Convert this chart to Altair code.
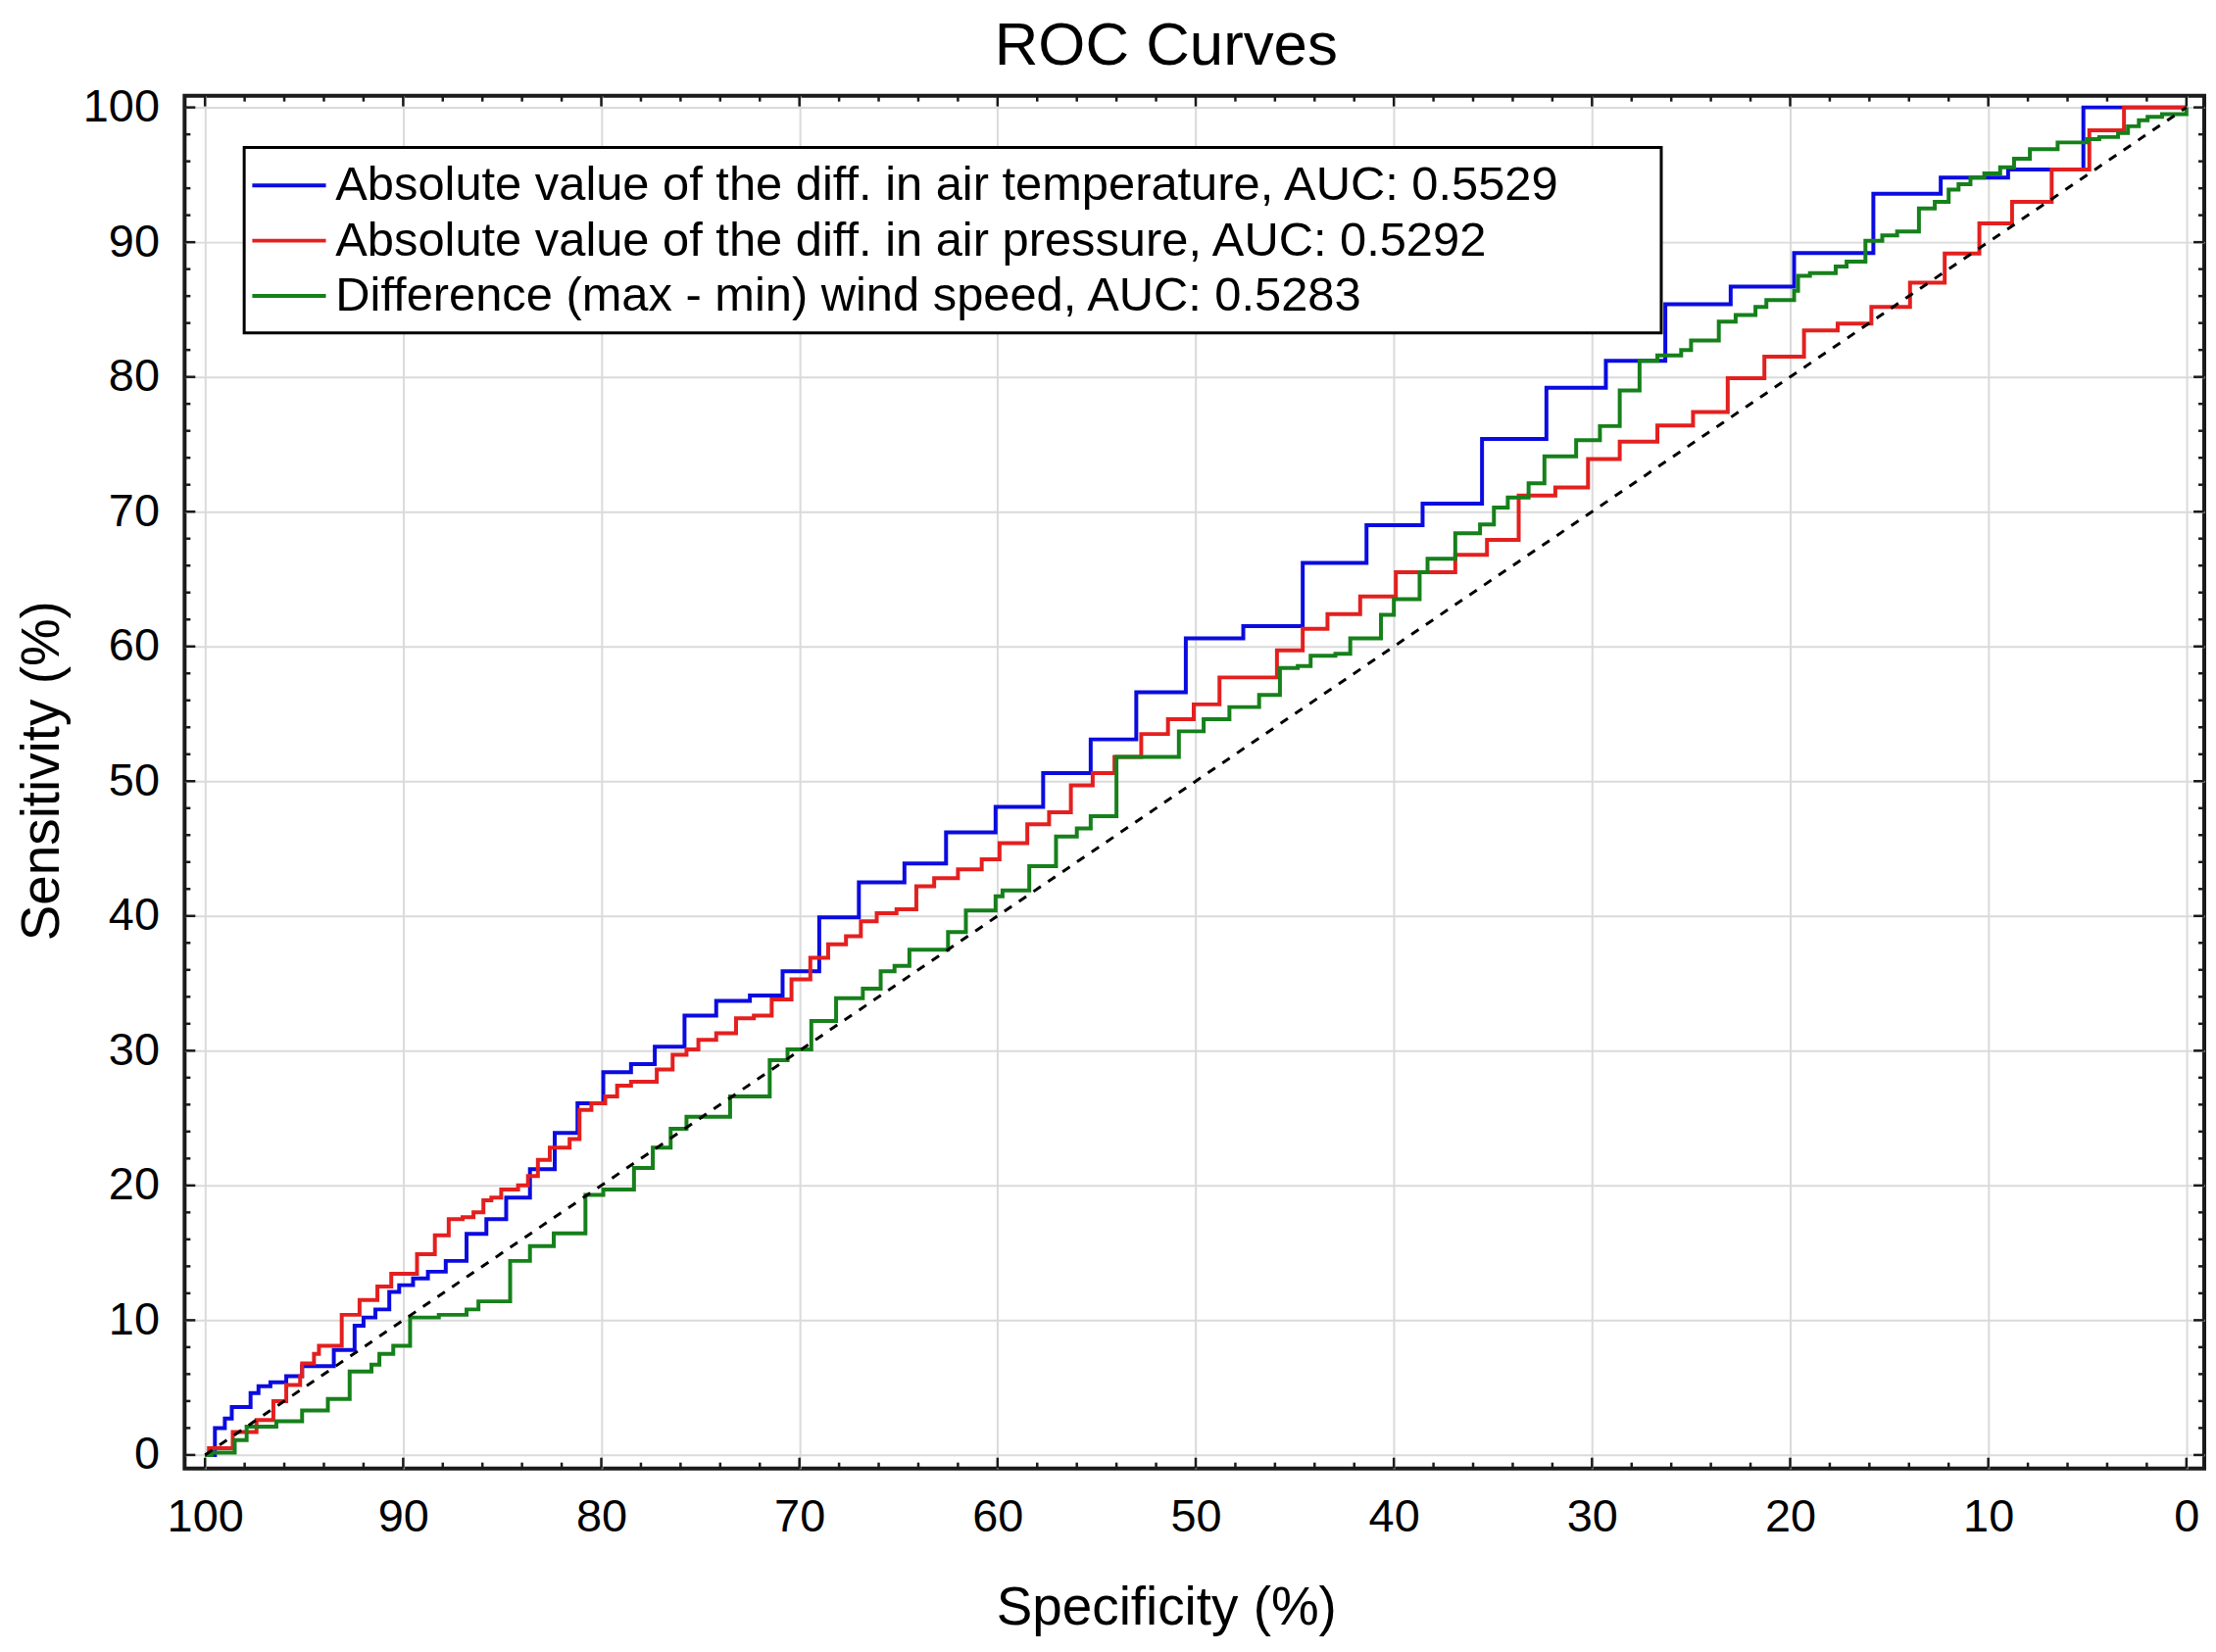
import altair as alt
import pandas as pd

# ---- data ----
labels = [
    "Absolute value of the diff. in air temperature, AUC: 0.5529",
    "Absolute value of the diff. in air pressure, AUC: 0.5292",
    "Difference (max - min) wind speed, AUC: 0.5283",
]
colors = ["#0b0be0", "#e3201f", "#16801b"]

blue_spec = [100, 99.5, 99.0, 98.65, 97.7, 97.3, 96.7, 95.9, 95.1, 93.5, 92.45, 92.0, 91.4, 90.7,
             90.2, 89.5, 88.75, 87.85, 86.8, 85.8, 84.8, 83.6, 82.35, 81.2, 79.9, 78.5, 77.3, 75.8,
             74.2, 72.5, 70.85, 69.0, 67.0, 64.7, 62.6, 60.1, 57.7, 55.3, 53.0, 50.5, 47.6, 44.6,
             41.38, 38.55, 35.55, 32.3, 29.3, 26.3, 23.0, 19.8, 15.8, 12.4, 9.0, 5.2, 0]
blue_sens = [0, 2.0, 2.7, 3.55, 4.6, 5.1, 5.4, 5.85, 6.6, 7.8, 9.6, 10.2, 10.8, 12.1,
             12.6, 13.1, 13.6, 14.4, 16.4, 17.5, 19.1, 21.2, 23.9, 26.1, 28.4, 29.0, 30.3, 32.6,
             33.7, 34.1, 35.9, 39.9, 42.5, 43.9, 46.2, 48.1, 50.6, 53.1, 56.6, 60.6, 61.5, 66.2,
             69.0, 70.6, 75.4, 79.2, 81.2, 85.4, 86.7, 89.2, 93.6, 94.8, 95.4, 100, 100]

red_spec = [100, 99.8, 98.6, 97.4, 96.55, 95.9, 95.2, 95.1, 94.5, 94.25, 93.1, 92.2, 91.3, 90.6,
            89.3, 88.4, 87.7, 87.0, 86.45, 85.95, 85.55, 85.05, 84.2, 83.7, 83.2, 82.6, 81.6, 81.1,
            80.5, 79.8, 79.2, 78.5, 77.2, 76.4, 75.7, 75.1, 74.2, 73.2, 72.3, 71.4, 70.4, 69.45,
            68.55, 67.65, 66.9, 66.1, 65.1, 64.1, 63.2, 62.0, 60.8, 59.9, 58.5, 57.4, 56.3, 55.2,
            54.1, 52.75, 51.4, 50.1, 48.8, 45.9, 44.6, 43.35, 41.7, 39.9, 36.9, 35.3, 33.7, 31.85,
            30.2, 28.6, 26.7, 24.9, 23.15, 21.3, 19.3, 17.6, 15.9, 13.95, 12.2, 10.45, 8.8, 6.8,
            4.9, 3.15, 0]
red_sens = [0, 0.5, 1.7, 2.6, 4.0, 5.2, 5.85, 6.8, 7.5, 8.1, 10.4, 11.5, 12.5, 13.45,
            14.9, 16.3, 17.5, 17.65, 18.0, 18.9, 19.1, 19.7, 20.0, 20.7, 21.9, 22.8, 23.45, 25.6,
            26.1, 26.6, 27.4, 27.7, 28.6, 29.7, 30.1, 30.8, 31.3, 32.4, 32.6, 33.8, 35.3, 36.9,
            37.9, 38.5, 39.6, 40.2, 40.5, 42.2, 42.8, 43.45, 44.2, 45.4, 46.8, 47.7, 49.7, 50.6,
            51.8, 53.5, 54.6, 55.7, 57.7, 59.7, 61.3, 62.4, 63.7, 65.5, 66.8, 67.9, 71.2, 71.8,
            73.9, 75.2, 76.4, 77.4, 79.9, 81.5, 83.45, 83.95, 85.2, 87.0, 89.15, 91.4, 93.0, 95.4,
            98.3, 100, 100]

green_spec = [100, 99.67, 98.5, 97.9, 96.4, 95.1, 93.8, 92.7, 91.6, 91.2, 90.5, 89.65, 88.2, 86.8,
              86.2, 84.6, 83.6, 82.4, 80.8, 79.9, 78.35, 77.4, 76.5, 75.7, 73.5, 71.5, 70.6, 69.4,
              68.15, 66.8, 65.9, 65.2, 64.45, 62.5, 61.6, 60.1, 59.75, 58.4, 57.05, 56.0, 55.3, 54.0,
              50.85, 49.6, 48.3, 46.8, 45.75, 44.85, 44.2, 42.95, 42.2, 40.65, 40.0, 38.7, 38.3, 36.9,
              35.65, 34.95, 34.25, 33.2, 32.4, 30.8, 29.6, 28.6, 27.6, 26.7, 25.5, 25.0, 23.6, 22.75,
              21.75, 21.2, 19.8, 19.6, 19.0, 17.7, 17.15, 16.2, 15.35, 14.6, 13.5, 12.7, 12.0, 11.5,
              10.9, 10.2, 9.4, 8.7, 7.9, 6.5, 5.0, 4.4, 3.45, 2.95, 2.4, 1.96, 1.23, 0]
green_sens = [0, 0.17, 1.1, 2.1, 2.5, 3.3, 4.15, 6.2, 6.7, 7.5, 8.1, 10.2, 10.4, 10.8,
              11.4, 14.4, 15.5, 16.45, 19.3, 19.7, 21.3, 22.8, 24.2, 25.1, 26.6, 29.3, 30.1, 32.2,
              33.9, 34.6, 35.9, 36.3, 37.5, 38.8, 40.4, 41.45, 41.9, 43.7, 45.9, 46.5, 47.4, 51.8,
              53.7, 54.6, 55.5, 56.4, 58.4, 58.55, 59.3, 59.45, 60.6, 62.35, 63.5, 65.5, 66.5, 68.4,
              69.05, 70.3, 71.05, 72.1, 74.1, 75.3, 76.35, 79.0, 81.2, 81.6, 82.0, 82.7, 84.1, 84.6,
              85.2, 85.7, 86.4, 87.5, 87.7, 88.2, 88.55, 90.1, 90.5, 90.8, 92.5, 93.0, 93.9, 94.3,
              94.8, 95.1, 95.55, 96.2, 96.9, 97.4, 97.65, 97.8, 98.1, 98.6, 99.05, 99.3, 99.5, 100]

diag_spec = [100, 0]
diag_sens = [0, 100]

major_ticks = list(range(0, 101, 10))
minor_ticks = [v for v in range(0, 101, 2) if v % 10 != 0]

# ---- build tables ----
rows = []
for lab, sp, se in zip(labels, [blue_spec, red_spec, green_spec], [blue_sens, red_sens, green_sens]):
    for i, (a, b) in enumerate(zip(sp, se)):
        rows.append({"series": lab, "idx": i, "spec": a, "sens": b})
df = pd.DataFrame(rows)
diag = pd.DataFrame({"spec": diag_spec, "sens": diag_sens})
tmaj = pd.DataFrame({"v": major_ticks})
tmin = pd.DataFrame({"v": minor_ticks})
one = pd.DataFrame({"k": [0]})

W, H = 2068, 1406
FONT = "Liberation Sans"

xs = alt.Scale(domain=[-0.9, 101.03], reverse=True, nice=False, zero=False)
ys = alt.Scale(domain=[-1.0, 100.87], nice=False, zero=False)

xaxis = alt.Axis(values=major_ticks, format="d", grid=True, ticks=False, domain=False,
                 labelFlush=False, labelOverlap=False, labelPadding=27,
                 title="Specificity (%)", titleX=1005, titleY=159,
                 titleBaseline="alphabetic", titleAlign="center")
yaxis = alt.Axis(values=major_ticks, format="d", grid=True, ticks=False, domain=False,
                 labelFlush=False, labelOverlap=False, labelPadding=26,
                 title="Sensitivity (%)", titleX=-129, titleY=691,
                 titleBaseline="alphabetic", titleAlign="center")

curves = alt.Chart(df).mark_line(interpolate="step-after", strokeWidth=4).encode(
    x=alt.X("spec:Q", scale=xs, axis=xaxis),
    y=alt.Y("sens:Q", scale=ys, axis=yaxis),
    color=alt.Color("series:N", scale=alt.Scale(domain=labels, range=colors),
                    legend=alt.Legend(title=None, orient="none", legendX=82.5, legendY=67.5,
                                      padding=0, symbolType="M-2.9,0H2.9", symbolSize=676,
                                      symbolStrokeWidth=4, labelOffset=23, rowPadding=6.5,
                                      labelLimit=3000, zindex=1)),
    order="idx:Q",
)

box = alt.Chart(one).mark_rect(fill="white", stroke="black", strokeWidth=3).encode(
    x=alt.value(61), x2=alt.value(1512), y=alt.value(53), y2=alt.value(243))

diag_line = alt.Chart(diag).mark_line(color="black", strokeDash=[9, 9], strokeWidth=3).encode(
    x="spec:Q", y="sens:Q")

TC = "#1a1a1a"
def xticks(data, top, length):
    y1 = 0 if top else H
    y2 = length if top else H - length
    return alt.Chart(data).mark_rule(color=TC, strokeWidth=2.5).encode(
        x="v:Q", y=alt.value(y1), y2=alt.value(y2))

def yticks(data, right, length):
    x1 = W if right else 0
    x2 = W - length if right else length
    return alt.Chart(data).mark_rule(color=TC, strokeWidth=2.5).encode(
        y="v:Q", x=alt.value(x1), x2=alt.value(x2))

tick_layers = [
    xticks(tmaj, False, 11), xticks(tmin, False, 6),
    xticks(tmaj, True, 11), xticks(tmin, True, 6),
    yticks(tmaj, False, 11), yticks(tmin, False, 6),
    yticks(tmaj, True, 11), yticks(tmin, True, 6),
]

chart = alt.layer(curves, box, diag_line, *tick_layers).properties(
    width=W, height=H,
    autosize=alt.AutoSizeParams(type="none"),
    padding={"left": 181, "top": 87, "right": 4, "bottom": 177},
    title=alt.Title("ROC Curves", dx=-29, offset=7, anchor="middle"),
).configure_view(
    stroke=TC, strokeWidth=4
).configure_axis(
    labelFont=FONT, labelFontSize=47, labelColor="black",
    titleFont=FONT, titleFontSize=55, titleFontWeight="normal", titleColor="black",
    gridColor="#dadada", gridWidth=2,
).configure_legend(
    labelFont=FONT, labelFontSize=49, labelColor="black",
).configure_title(
    font=FONT, fontSize=62, fontWeight="normal", color="black",
)

chart.save("out.html", embed_options={"renderer": "svg", "actions": False})
